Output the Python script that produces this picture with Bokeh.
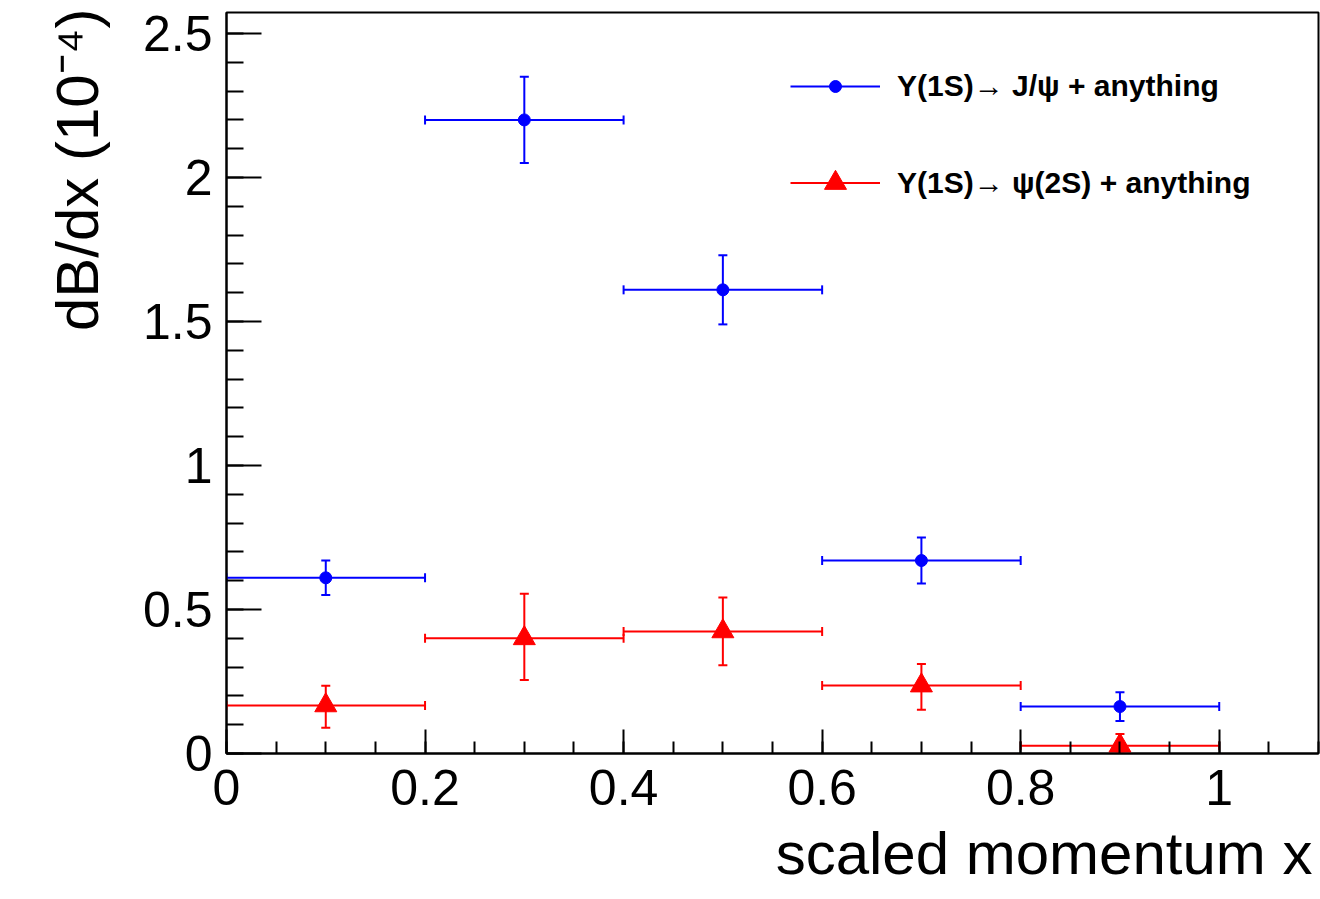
import math
from bokeh.plotting import figure
from bokeh.models import (ColumnDataSource, Whisker, TeeHead, FixedTicker, Title,
                          CustomJSTickFormatter, Legend, LegendItem, Range1d)
from bokeh.embed import file_html
from bokeh.resources import INLINE

# ---------------- data ----------------
x_bins = [0.1, 0.3, 0.5, 0.7, 0.9]
x_half = [0.1, 0.1, 0.1, 0.1, 0.1]
jpsi_y = [0.61, 2.20, 1.61, 0.67, 0.163]
jpsi_err = [0.06, 0.15, 0.12, 0.08, 0.05]
psi2s_y = [0.167, 0.40, 0.424, 0.236, 0.027]
psi2s_err_lo = [0.078, 0.145, 0.118, 0.084, 0.027]
psi2s_err_hi = [0.068, 0.155, 0.118, 0.075, 0.041]

x_ticks = [0.0, 0.2, 0.4, 0.6, 0.8, 1.0]
x_tick_labels = ["0", "0.2", "0.4", "0.6", "0.8", "1"]
y_ticks = [0.0, 0.5, 1.0, 1.5, 2.0, 2.5]
y_tick_labels = ["0", "0.5", "1", "1.5", "2", "2.5"]

label_jpsi = "Υ(1S)→ J/ψ + anything"
label_psi2s = "Υ(1S)→ ψ(2S) + anything"
x_title = "scaled momentum x"
y_title = "dB/dx (10⁻⁴)"

BLUE = "#0000ff"
RED = "#ff0000"
FONT = "Liberation Sans"

X0, X1 = 0.0, 1.1
Y0, Y1 = 0.0, 2.573


def make_source(y, lo, hi):
    return ColumnDataSource(dict(
        x=x_bins, y=y,
        xl=[a - h for a, h in zip(x_bins, x_half)],
        xh=[a + h for a, h in zip(x_bins, x_half)],
        yl=[v - e for v, e in zip(y, lo)],
        yh=[v + e for v, e in zip(y, hi)],
    ))


src_b = make_source(jpsi_y, jpsi_err, jpsi_err)
src_r = make_source(psi2s_y, psi2s_err_lo, psi2s_err_hi)

p = figure(width=1320, height=899, x_range=Range1d(X0, X1), y_range=Range1d(Y0, Y1),
           output_backend="svg", toolbar_location=None,
           min_border_left=226, min_border_right=2, min_border_top=12, min_border_bottom=146)
p.background_fill_color = "white"
p.border_fill_color = "white"
p.outline_line_color = "black"
p.outline_line_width = 2
p.xgrid.visible = False
p.ygrid.visible = False


def tick_formatter(tvals, tlabels):
    return CustomJSTickFormatter(args=dict(tvals=tvals, tlabels=tlabels), code="""
        for (let i = 0; i < tvals.length; i++) {
            if (Math.abs(tvals[i] - tick) < 1e-9) { return tlabels[i]; }
        }
        return '';
    """)


# x axis
xa = p.xaxis[0]
xa.ticker = FixedTicker(ticks=x_ticks,
                        minor_ticks=[round(0.05 * i, 2) for i in range(0, 23)])
xa.formatter = tick_formatter(x_ticks, x_tick_labels)
xa.major_tick_in = 24
xa.major_tick_out = 0
xa.minor_tick_in = 12
xa.minor_tick_out = 0
xa.axis_line_width = 2
xa.major_tick_line_width = 2
xa.minor_tick_line_width = 2
xa.major_label_text_font = FONT
xa.major_label_text_font_size = "50px"
xa.major_label_text_color = "black"
xa.major_label_standoff = 16

# y axis
ya = p.yaxis[0]
ya.ticker = FixedTicker(ticks=y_ticks,
                        minor_ticks=[round(0.1 * i, 2) for i in range(0, 26)])
ya.formatter = tick_formatter(y_ticks, y_tick_labels)
ya.major_tick_in = 35
ya.major_tick_out = 0
ya.minor_tick_in = 17
ya.minor_tick_out = 0
ya.axis_line_width = 2
ya.major_tick_line_width = 2
ya.minor_tick_line_width = 2
ya.major_label_text_font = FONT
ya.major_label_text_font_size = "50px"
ya.major_label_text_color = "black"
ya.major_label_standoff = 14

# axis titles (ROOT style: aligned to the end of each axis)
p.add_layout(Title(text=x_title, align="right", standoff=20, offset=6, text_font=FONT,
                   text_font_size="60px", text_font_style="normal",
                   text_color="black"), "below")
p.add_layout(Title(text=y_title, align="right", standoff=57, offset=-4, text_font=FONT,
                   text_font_size="60px", text_font_style="normal",
                   text_color="black"), "left")


def draw_series(src, color, marker, size):
    h = p.segment(x0="xl", y0="y", x1="xh", y1="y", source=src,
                  line_color=color, line_width=2)
    p.segment(x0="x", y0="yl", x1="x", y1="yh", source=src,
              line_color=color, line_width=2)
    p.add_layout(Whisker(base="x", lower="yl", upper="yh", source=src, dimension="height",
                         line_alpha=0,
                         upper_head=TeeHead(size=9, line_color=color, line_width=2),
                         lower_head=TeeHead(size=9, line_color=color, line_width=2)))
    p.add_layout(Whisker(base="y", lower="xl", upper="xh", source=src, dimension="width",
                         line_alpha=0,
                         upper_head=TeeHead(size=9, line_color=color, line_width=2),
                         lower_head=TeeHead(size=9, line_color=color, line_width=2)))
    s = p.scatter(x="x", y="y", source=src, marker=marker, size=size,
                  fill_color=color, line_color=color)
    return h, s


hb, sb = draw_series(src_b, BLUE, "circle", 12)
hr, sr = draw_series(src_r, RED, "triangle", 22)


def make_legend(label, renderers, gh, loc):
    return Legend(items=[LegendItem(label=label, renderers=renderers)],
                  location=loc, glyph_width=90, glyph_height=gh, label_height=gh,
                  label_standoff=17, padding=0, margin=0, spacing=0,
                  border_line_alpha=0, background_fill_alpha=0,
                  label_text_font=FONT, label_text_font_style="bold",
                  label_text_font_size="30px", label_text_color="black")


p.add_layout(make_legend(label_jpsi, [hb, sb], 30, (564, 650)))
p.add_layout(make_legend(label_psi2s, [hr, sr], 55, (564, 543)))

open("out.html", "w").write(file_html(p, INLINE))
